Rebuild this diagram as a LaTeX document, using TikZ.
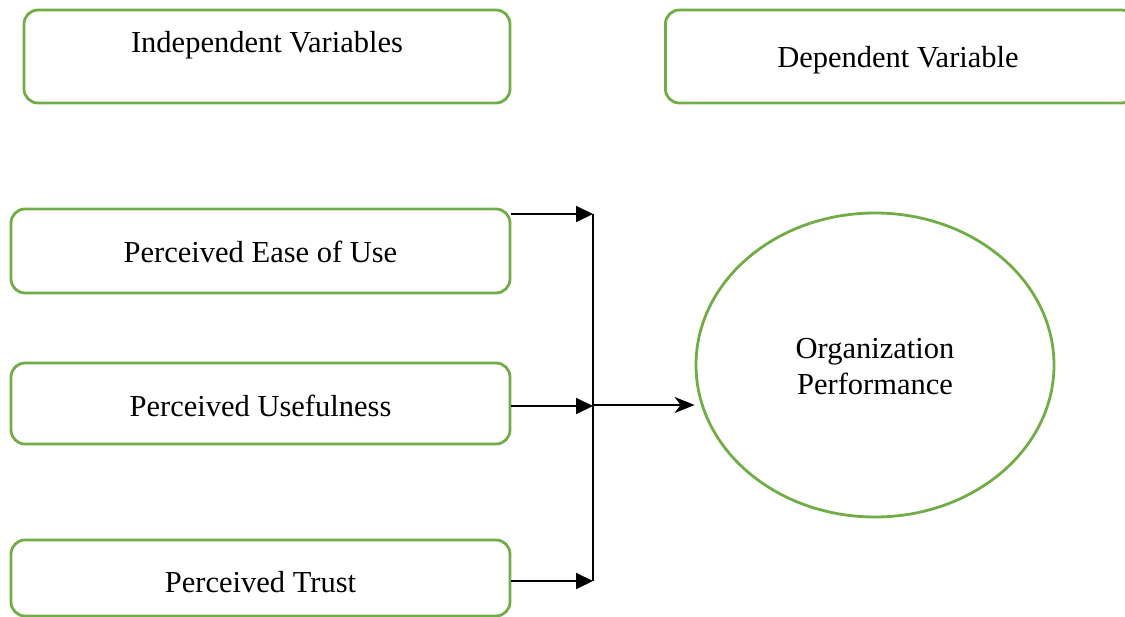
\documentclass[tikz,border=0pt]{standalone}
\usepackage{fontspec}
\setmainfont{Liberation Serif}
\usetikzlibrary{shapes.geometric,arrows.meta}
\definecolor{boxgreen}{RGB}{112,173,71}
\tikzset{
  vbox/.style={draw=boxgreen, line width=2.8pt, rounded corners=14pt, inner sep=0pt},
  lbl/.style={font=\fontsize{30.5}{35}\selectfont, inner sep=0pt},
  feed/.style={draw=black, line width=2pt, -{Triangle[length=17pt,width=16pt]}},
  outarr/.style={draw=black, line width=2pt, -{Stealth[length=20pt,width=16pt,inset=6pt]}},
  plain/.style={draw=black, line width=2pt}
}
\begin{document}
\begin{tikzpicture}[x=1pt,y=-1pt]
\useasboundingbox (0,0) rectangle (1125,617);
% header boxes
\node[vbox, minimum width=486pt, minimum height=93pt] (iv) at (267,56.5) {};
\node[lbl] (ivt) at (267,45) {Independent Variables};
\node[vbox, minimum width=470pt, minimum height=93pt, anchor=west] (dv) at (664,56.5) {};
\node[lbl] (dvt) at (898,60) {Dependent Variable};
% variable boxes
\node[vbox, minimum width=499pt, minimum height=84pt] (ease) at (260.5,251) {};
\node[lbl] (easet) at (260.5,252) {Perceived Ease of Use};
\node[vbox, minimum width=499pt, minimum height=81pt] (use) at (260.5,403.5) {};
\node[lbl] (uset) at (260.5,406) {Perceived Usefulness};
\node[vbox, minimum width=499pt, minimum height=76pt] (trust) at (260.5,578) {};
\node[lbl] (trustt) at (260.5,582) {Perceived Trust};
% dependent ellipse
\node[ellipse, draw=boxgreen, line width=2.8pt, minimum width=358pt, minimum height=304pt, inner sep=0pt] (perf) at (875,365) {};
\node[lbl, align=center] (perft) at (875,367) {Organization\\[1pt]Performance};
% connectors
\coordinate (j1) at (593,214);
\coordinate (j2) at (593,406);
\coordinate (j3) at (593,581);
\draw[feed] (ease.east |- j1) -- (j1);
\draw[feed] (use.east |- j2) -- (j2);
\draw[feed] (trust.east |- j3) -- (j3);
\draw[plain] (j1) -- (j3);
\coordinate (j4) at (593,405);
\draw[outarr] (j4) -- (j4 -| perf.west);
\end{tikzpicture}
\end{document}
